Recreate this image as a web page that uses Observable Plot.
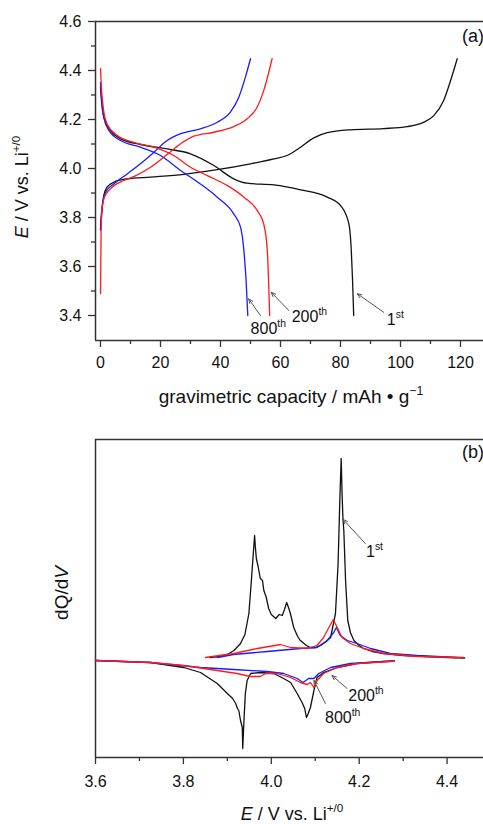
<!DOCTYPE html>
<html><head><meta charset="utf-8">
<script src="https://cdn.jsdelivr.net/npm/d3@7"></script>
<script src="https://cdn.jsdelivr.net/npm/@observablehq/plot@0.6"></script>
<style>
body{margin:0;background:#fff;width:483px;height:824px;overflow:hidden;}
#root svg{display:block;}
</style></head><body><div id="root"></div>
<script>
// ---------- Panel (a): E vs gravimetric capacity ----------
const capCharge1 = [0, 0.3, 0.6, 1.1, 2.2, 4.4, 8.9, 16.7, 27.8, 38.9, 50, 57.8, 62.2, 66.7, 71.1, 75.6, 83.3, 94.4, 102.2, 107.8, 111.1, 114.4, 116.7, 118.9];
const vCharge1   = [3.75, 3.80, 3.842, 3.89, 3.924, 3.944, 3.958, 3.965, 3.976, 3.995, 4.019, 4.039, 4.053, 4.087, 4.125, 4.146, 4.158, 4.163, 4.171, 4.189, 4.216, 4.278, 4.359, 4.448];
const capDis1 = [0, 0.4, 1.1, 3.3, 6.7, 13.3, 22.2, 30, 37.8, 44.4, 48.9, 57.8, 66.7, 75.6, 80, 82.8, 83.6, 84.0, 84.4];
const vDis1   = [4.33, 4.28, 4.209, 4.155, 4.121, 4.098, 4.080, 4.060, 4.012, 3.958, 3.940, 3.933, 3.913, 3.883, 3.849, 3.774, 3.665, 3.55, 3.4];
const capCharge200 = [0, 0.2, 0.56, 1.3, 3.3, 7.8, 11.1, 16.7, 22.2, 26.7, 31.1, 37.8, 44.4, 48.9, 52.2, 54.4, 56.1, 57.2];
const vCharge200   = [3.49, 3.74, 3.842, 3.883, 3.917, 3.951, 3.967, 4.005, 4.057, 4.101, 4.132, 4.148, 4.171, 4.203, 4.250, 4.318, 4.393, 4.448];
const capDis200 = [0, 0.3, 0.9, 2.2, 5.6, 11.1, 17.8, 24.4, 30, 35.6, 42.2, 47.8, 52.2, 54.4, 55.6, 56.0, 56.4];
const vDis200   = [4.409, 4.332, 4.250, 4.182, 4.135, 4.107, 4.087, 4.053, 4.005, 3.971, 3.931, 3.883, 3.829, 3.774, 3.665, 3.55, 3.4];
const capCharge800 = [0, 0.2, 0.6, 1.7, 4.4, 8.9, 13.3, 17.8, 22.2, 26.7, 33.3, 38.9, 43.3, 46.1, 48.3, 50];
const vCharge800   = [3.75, 3.80, 3.85, 3.903, 3.937, 3.978, 4.019, 4.066, 4.114, 4.142, 4.162, 4.189, 4.230, 4.291, 4.373, 4.448];
const capDis800 = [0, 0.3, 1.1, 2.8, 6.7, 13.3, 20, 26.7, 33.3, 38.9, 44.4, 46.7, 47.8, 48.5, 49.1];
const vDis800   = [4.35, 4.278, 4.209, 4.155, 4.114, 4.087, 4.053, 3.992, 3.937, 3.883, 3.815, 3.760, 3.665, 3.55, 3.4];

const capTicks = [0, 20, 40, 60, 80, 100, 120];
const capMinorTicks = [10, 30, 50, 70, 90, 110];
const eTicksA = [3.4, 3.6, 3.8, 4.0, 4.2, 4.4, 4.6];
const eMinorTicksA = [3.5, 3.7, 3.9, 4.1, 4.3, 4.5];

// annotations (a): label, arrow tail, arrow head, text anchor (data units)
const annA = [
  {base: "1",   sup: "st", x1: 94.4, y1: 3.413, x2: 85.6, y2: 3.489, tx: 95.6, ty: 3.359},
  {base: "200", sup: "th", x1: 62.8, y1: 3.420, x2: 56.9, y2: 3.495, tx: 63.9, ty: 3.373},
  {base: "800", sup: "th", x1: 53.3, y1: 3.400, x2: 49.4, y2: 3.468, tx: 50.2, ty: 3.322}
];

// ---------- Panel (b): dQ/dV vs E ----------
const eChg1 = [3.86, 3.88, 3.90, 3.915, 3.930, 3.940, 3.949, 3.955, 3.959, 3.962, 3.964, 3.966, 3.970, 3.975, 3.980, 3.983, 3.988, 3.994, 4.000, 4.010, 4.018, 4.025, 4.030, 4.035, 4.040, 4.044, 4.051, 4.060, 4.066, 4.080, 4.089, 4.100, 4.112, 4.125, 4.135, 4.146, 4.152, 4.156, 4.159, 4.161, 4.163, 4.165, 4.169, 4.174, 4.180, 4.188, 4.200, 4.210, 4.230, 4.255, 4.30, 4.35, 4.40, 4.44];
const qChg1 = [1, 2, 4, 8, 15, 24, 45, 80, 105, 123, 110, 100, 92, 80, 78, 68, 62, 50, 44, 40, 44, 43, 49, 56, 50, 44, 31, 22, 18, 13, 11, 11, 13, 17, 21, 45, 95, 160, 200, 165, 140, 128, 78, 38, 26, 18, 13, 10, 7, 5, 3, 2, 1, 0.5];
const eChg200 = [3.850, 3.915, 3.968, 4.021, 4.044, 4.082, 4.104, 4.119, 4.131, 4.141, 4.150, 4.161, 4.180, 4.210, 4.256, 4.332, 4.438];
const qChg200 = [1, 5, 10, 14, 11, 10, 13, 21, 31, 39, 31, 21, 15, 10, 5, 2, 1];
const eChg800 = [3.877, 3.914, 3.991, 4.066, 4.104, 4.127, 4.142, 4.148, 4.157, 4.173, 4.195, 4.226, 4.271, 4.332, 4.423];
const qChg800 = [1, 4, 7, 10, 11, 18, 26, 31, 23, 18, 15, 10, 5, 3, 1];
const eDis1 = [3.60, 3.725, 3.801, 3.839, 3.877, 3.900, 3.912, 3.919, 3.923, 3.926, 3.930, 3.934, 3.935, 3.938, 3.941, 3.945, 3.953, 3.975, 4.006, 4.028, 4.044, 4.052, 4.059, 4.065, 4.070, 4.076, 4.080, 4.084, 4.089, 4.097, 4.104, 4.119, 4.150, 4.195, 4.256, 4.28];
const qDis1 = [-2, -4, -9, -14, -25, -35, -40, -45, -50, -52, -62, -69, -90, -60, -35, -22, -15, -14, -15, -20, -24, -30, -35, -40, -44, -50, -59, -55, -49, -32, -19, -14, -9, -5, -3, -2.5];
const eDis200 = [3.60, 3.725, 3.801, 3.877, 3.922, 3.953, 3.975, 3.987, 4.013, 4.044, 4.066, 4.082, 4.089, 4.097, 4.104, 4.119, 4.150, 4.195, 4.271, 4.28];
const qDis200 = [-2, -4, -7, -12, -15, -18, -18, -15, -15, -19, -24, -26, -24, -29, -22, -15, -9, -5, -3, -2.5];
const eDis800 = [3.60, 3.725, 3.839, 3.915, 3.991, 4.028, 4.059, 4.072, 4.085, 4.097, 4.108, 4.135, 4.180, 4.255, 4.28];
const qDis800 = [-2, -4, -9, -11, -13, -15, -20, -24, -20, -20, -15, -9, -5, -3, -2.5];

const eTicksB = [3.6, 3.8, 4.0, 4.2, 4.4];
const eMinorTicksB = [3.7, 3.9, 4.1, 4.3];

const annB = [
  {base: "1",   sup: "st", x1: 4.214, y1: 115, x2: 4.1635, y2: 139, tx: 4.2166, ty: 101},
  {base: "200", sup: "th", x1: 4.1725, y1: -30, x2: 4.138, y2: -17, tx: 4.1763, ty: -43},
  {base: "800", sup: "th", x1: 4.123, y1: -45, x2: 4.097, y2: -22, tx: 4.1233, ty: -65}
];

const FONT = "'Liberation Sans', Arial, Helvetica, sans-serif";
const W = 483;
const BLACK = "#111", RED = "#ff1a1a", BLUE = "#1a1aff", AXIS = "#333";

function pts(xs, ys) { return xs.map((x, i) => ({x, y: ys[i]})); }
function line(xs, ys, color, curve) {
  return Plot.line(pts(xs, ys), {x: "x", y: "y", stroke: color, strokeWidth: 1.3, curve: curve || "linear"});
}

function addRich(sel, x, y, parts, size, anchor, rotate) {
  const t = sel.append("text")
    .attr("font-family", FONT).attr("font-size", size).attr("fill", "#111")
    .attr("text-anchor", anchor || "start")
    .attr("transform", `translate(${x},${y})` + (rotate ? ` rotate(${rotate})` : ""));
  let shifted = false;
  for (const p of parts) {
    const ts = t.append("tspan").text(p.t);
    if (p.italic) ts.attr("font-style", "italic");
    if (p.sup) {
      ts.attr("font-size", size * 0.65).attr("dy", -size * 0.42);
      shifted = true;
    } else if (shifted) {
      ts.attr("dy", size * 0.42); shifted = false;
    }
  }
  return t;
}

// ---- panel a
const aH = 415, aMT = 21, aMB = 75, aML = 95, aMR = 0;
const aXdom = [-5 / 3, 383 / 3], aYdom = [3.298, 4.6];
const chartA = Plot.plot({
  width: W, height: aH, marginTop: aMT, marginBottom: aMB, marginLeft: aML, marginRight: aMR,
  style: {fontFamily: FONT, fontSize: "16px", color: "#111", background: "#fff"},
  x: {domain: aXdom},
  y: {domain: aYdom},
  marks: [
    Plot.ruleY([aYdom[1]], {stroke: AXIS, strokeWidth: 1.5}),
    Plot.ruleY([aYdom[0]], {stroke: AXIS, strokeWidth: 1.5}),
    Plot.ruleX([aXdom[0]], {stroke: AXIS, strokeWidth: 1.5}),
    Plot.axisX(capTicks, {tickSize: 7, tickPadding: 9, label: null, stroke: AXIS, strokeWidth: 1.3}),
    Plot.axisX(capMinorTicks, {tickSize: 4, tickFormat: () => "", label: null, stroke: AXIS, strokeWidth: 1.3}),
    Plot.axisY(eTicksA, {tickSize: 7, tickPadding: 7, tickFormat: d3.format(".1f"), label: null, stroke: AXIS, strokeWidth: 1.3}),
    Plot.axisY(eMinorTicksA, {tickSize: 4, tickFormat: () => "", label: null, stroke: AXIS, strokeWidth: 1.3}),
    line(capCharge1, vCharge1, BLACK, "monotone-x"),
    line(capDis1, vDis1, BLACK, "monotone-x"),
    line(capCharge800, vCharge800, BLUE, "monotone-x"),
    line(capDis800, vDis800, BLUE, "monotone-x"),
    line(capCharge200, vCharge200, RED, "monotone-x"),
    line(capDis200, vDis200, RED, "monotone-x"),
    Plot.arrow(annA, {x1: "x1", y1: "y1", x2: "x2", y2: "y2", stroke: "#555", strokeWidth: 1, headLength: 7, headAngle: 45})
  ]
});

// ---- panel b
const bH = 409, bMT = 24, bMB = 67, bML = 95, bMR = 0;
const bXdom = [3.6, 3.6 + 388 / 439.5], bYdom = [-99, 219];
const chartB = Plot.plot({
  width: W, height: bH, marginTop: bMT, marginBottom: bMB, marginLeft: bML, marginRight: bMR,
  style: {fontFamily: FONT, fontSize: "16px", color: "#111", background: "#fff"},
  x: {domain: bXdom},
  y: {domain: bYdom, axis: null},
  marks: [
    Plot.ruleY([bYdom[1]], {stroke: AXIS, strokeWidth: 1.5}),
    Plot.ruleY([bYdom[0]], {stroke: AXIS, strokeWidth: 1.5}),
    Plot.ruleX([bXdom[0]], {stroke: AXIS, strokeWidth: 1.5}),
    Plot.axisX(eTicksB, {tickSize: 7, tickPadding: 11, tickFormat: d3.format(".1f"), label: null, stroke: AXIS, strokeWidth: 1.3}),
    Plot.axisX(eMinorTicksB, {tickSize: 4, tickFormat: () => "", label: null, stroke: AXIS, strokeWidth: 1.3}),
    line(eDis1, qDis1, BLACK),
    line(eChg1, qChg1, BLACK),
    line(eChg800, qChg800, BLUE),
    line(eDis800, qDis800, BLUE),
    line(eChg200, qChg200, RED),
    line(eDis200, qDis200, RED),
    Plot.arrow(annB, {x1: "x1", y1: "y1", x2: "x2", y2: "y2", stroke: "#555", strokeWidth: 1, headLength: 7, headAngle: 45})
  ]
});

const root = document.getElementById("root");
root.appendChild(chartA);
root.appendChild(chartB);

// rich text (titles, annotations with superscripts)
const sxA = d3.scaleLinear(aXdom, [aML, W - aMR]);
const syA = d3.scaleLinear(aYdom, [aH - aMB, aMT]);
const sxB = d3.scaleLinear(bXdom, [bML, W - bMR]);
const syB = d3.scaleLinear(bYdom, [bH - bMB, bMT]);

const gA = d3.select(chartA).append("g");
const gB = d3.select(chartB).append("g");

const eTitle = [{t: "E", italic: true}, {t: " / V vs. Li"}, {t: "+/0", sup: true}];
addRich(gA, 28, 187, eTitle, 18, "middle", -90);
addRich(gA, 291, 403, [{t: "gravimetric capacity / mAh \u2022 g"}, {t: "\u22121", sup: true}], 19, "middle");
addRich(gA, 462, 42, [{t: "(a)"}], 18, "start");
for (const a of annA) addRich(gA, sxA(a.tx), syA(a.ty), [{t: a.base}, {t: a.sup, sup: true}], 16, "start");

addRich(gB, 68, 178, [{t: "dQ/d"}, {t: "V", italic: true}], 19, "middle", -90);
addRich(gB, 292, 405, eTitle, 18, "middle");
addRich(gB, 462, 43, [{t: "(b)"}], 18, "start");
for (const a of annB) addRich(gB, sxB(a.tx), syB(a.ty), [{t: a.base}, {t: a.sup, sup: true}], 16, "start");
</script></body></html>
